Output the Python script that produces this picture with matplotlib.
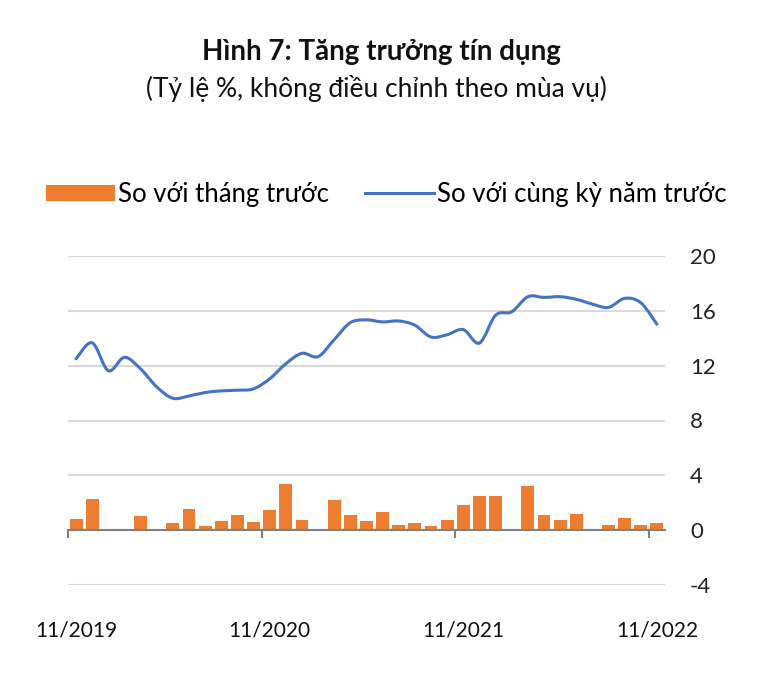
"""Credit growth chart: monthly change (bars) vs year-on-year (smoothed line)."""

import matplotlib
matplotlib.use("Agg")
import matplotlib.pyplot as plt
import numpy as np
from matplotlib.path import Path
from matplotlib.patches import PathPatch, Patch
from matplotlib.lines import Line2D

plt.rcParams["font.family"] = ["Lato", "DejaVu Sans"]

# Data (11/2019 .. 11/2022, monthly)
mom = [0.78, 2.31, 0.0, 0.0, 1.05, 0.0, 0.54, 1.51, 0.32, 0.66, 1.14, 0.56,
       1.46, 3.36, 0.73, 0.0, 2.17, 1.14, 0.66, 1.31, 0.41, 0.49, 0.32, 0.73,
       1.80, 2.48, 2.48, 0.0, 3.21, 1.14, 0.73, 1.21, 0.0, 0.36, 0.92, 0.36,
       0.53]
yoy = [12.5, 13.67, 11.63, 12.61, 11.76, 10.45, 9.62, 9.79, 10.04, 10.16,
       10.21, 10.31, 11.04, 12.14, 12.9, 12.66, 13.9, 15.14, 15.34, 15.19,
       15.26, 14.95, 14.09, 14.26, 14.63, 13.65, 15.68, 15.93, 17.03, 16.98,
       17.03, 16.84, 16.49, 16.25, 16.91, 16.59, 15.02]
tick_pos = [0, 12, 24, 36]
tick_labels = ["11/2019", "11/2020", "11/2021", "11/2022"]
y_ticks = [-4, 0, 4, 8, 12, 16, 20]

ORANGE = "#ED7D31"
BLUE = "#4472C4"
GRID = "#D9D9D9"


def smooth_path(x, y, tension=1 / 6):
    """Catmull-Rom style Bezier path through the points (Excel smoothed line)."""
    x = np.asarray(x, float)
    y = np.asarray(y, float)
    verts = [(x[0], y[0])]
    codes = [Path.MOVETO]
    n = len(x)
    for i in range(n - 1):
        p0 = (x[max(i - 1, 0)], y[max(i - 1, 0)])
        p1 = (x[i], y[i])
        p2 = (x[i + 1], y[i + 1])
        p3 = (x[min(i + 2, n - 1)], y[min(i + 2, n - 1)])
        c1 = (p1[0] + (p2[0] - p0[0]) * tension, p1[1] + (p2[1] - p0[1]) * tension)
        c2 = (p2[0] - (p3[0] - p1[0]) * tension, p2[1] - (p3[1] - p1[1]) * tension)
        verts += [c1, c2, p2]
        codes += [Path.CURVE4] * 3
    return Path(verts, codes)


fig = plt.figure(figsize=(7.68, 6.94), dpi=100)
ax = fig.add_axes([68 / 768, 109 / 694, 597 / 768, 329 / 694])

x = np.arange(len(mom))

# Gridlines
for v in y_ticks:
    if v != 0:
        ax.axhline(v, color=GRID, lw=1.5, zorder=0)

ax.bar(x, mom, width=0.8, color=ORANGE, zorder=2)
ax.add_patch(PathPatch(smooth_path(x, yoy), facecolor="none", edgecolor=BLUE,
                       lw=2.2, capstyle="round", joinstyle="round", zorder=3))

ax.set_xlim(-0.5, len(mom) - 0.5)
ax.set_ylim(-4, 20)

for s in ["top", "left", "right"]:
    ax.spines[s].set_visible(False)
ax.spines["bottom"].set_position(("data", 0))
ax.spines["bottom"].set_color("#808080")
ax.spines["bottom"].set_linewidth(1.5)
ax.spines["bottom"].set_zorder(4)
ax.set_xticks([p - 0.5 for p in tick_pos])
ax.set_xticklabels([])
ax.tick_params(axis="x", direction="out", length=6, width=1.5, color="#808080")

for p, lab in zip(tick_pos, tick_labels):
    ax.text(p, -0.137, lab, transform=ax.get_xaxis_transform(), ha="center",
            va="center", fontsize=15, color="#111111")

ax.yaxis.tick_right()
ax.set_yticks(y_ticks)
ax.set_yticklabels([str(v) for v in y_ticks])
ax.tick_params(axis="y", length=0, pad=18, labelsize=16, labelcolor="#222222")
for lab in ax.get_yticklabels():
    lab.set_horizontalalignment("left")

# Title
fig.text(0.497, 0.925, "Hình 7: Tăng trưởng tín dụng", ha="center", va="center",
         fontsize=20, fontweight="bold", color="#111111")
fig.text(0.49, 0.873, "(Tỷ lệ %, không điều chỉnh theo mùa vụ)", ha="center",
         va="center", fontsize=19, color="#111111")

# Legend
handles = [Patch(facecolor=ORANGE, edgecolor="none"),
           Line2D([], [], color=BLUE, lw=2.2)]
fig.legend(handles, ["So với tháng trước", "So với cùng kỳ năm trước"],
           loc="center", bbox_to_anchor=(0.503, 0.72), ncol=2, frameon=False,
           fontsize=18.5, handlelength=2.7, handleheight=0.6, handletextpad=0.12,
           columnspacing=1.4)

fig.savefig("out.png", dpi=100)
plt.close(fig)
